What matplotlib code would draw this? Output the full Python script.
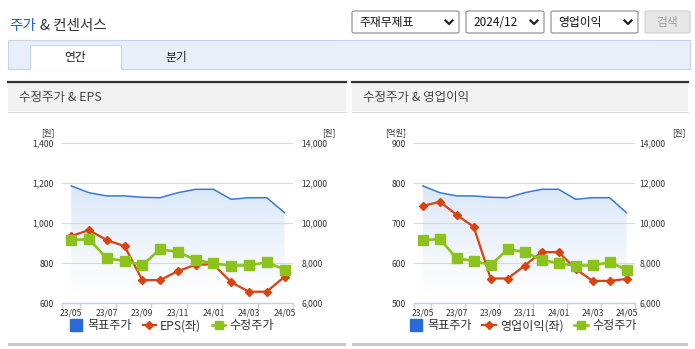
import numpy as np
import matplotlib
matplotlib.use("Agg")
import matplotlib.pyplot as plt
from matplotlib.patches import Rectangle, FancyBboxPatch
from matplotlib.lines import Line2D
from matplotlib.colors import LinearSegmentedColormap

plt.rcParams['font.family'] = ['Noto Sans CJK KR', 'DejaVu Sans']

# ---------------- data ----------------
months = ['23/05', '23/06', '23/07', '23/08', '23/09', '23/10', '23/11',
          '23/12', '24/01', '24/02', '24/03', '24/04', '24/05']
tick_labels = ['23/05', '23/07', '23/09', '23/11', '24/01', '24/03', '24/05']
target_price = [11870, 11530, 11370, 11370, 11300, 11280, 11530,
                11700, 11700, 11200, 11280, 11280, 10530]
adj_price = [9160, 9210, 8250, 8120, 7910, 8700, 8570,
             8170, 8000, 7880, 7900, 8050, 7690]
eps = [936, 966, 916, 886, 716, 716, 761, 793, 795, 705, 658, 658, 733]
op_income = [743, 754, 721, 691, 562, 562, 594, 628, 628, 586, 556, 556, 561]

eps_ticks = [600, 800, 1000, 1200, 1400]
op_ticks = [500, 600, 700, 800, 900]
price_ticks = [6000, 8000, 10000, 12000, 14000]

W, H = 695, 349
fig = plt.figure(figsize=(W / 100, H / 100), dpi=100)
fig.patch.set_facecolor('white')

BLUE = '#3a78d8'
BLUE_LEG = '#2a6ad8'
RED = '#d8430f'
GREEN = '#8cc21e'
AXC = '#c3d0e2'
TXT = '#333333'


def fx(x):
    return x / W


def fy(y):
    return 1 - y / H


def rect(x0, y0, x1, y1, **kw):
    r = Rectangle((fx(x0), fy(y1)), (x1 - x0) / W, (y1 - y0) / H,
                  transform=fig.transFigure, **kw)
    fig.add_artist(r)
    return r


def hline(x0, x1, y, **kw):
    fig.add_artist(Line2D([fx(x0), fx(x1)], [fy(y), fy(y)],
                          transform=fig.transFigure, **kw))


def text(x, y, s, **kw):
    kw.setdefault('va', 'center')
    kw.setdefault('color', TXT)
    fig.text(fx(x), fy(y), s, **kw)


# ---------------- top UI ----------------
fig.text(fx(9), fy(26), '주가', color='#1e5fc8', fontsize=10.5, va='center')
fig.text(fx(40), fy(26), '& 컨센서스', color=TXT, fontsize=10.5, va='center')


def dropdown(x0, x1, label, y0=11, y1=33):
    p = FancyBboxPatch((fx(x0), fy(y1)), (x1 - x0) / W, (y1 - y0) / H,
                       boxstyle='round,pad=0,rounding_size=0.004',
                       transform=fig.transFigure, facecolor='white',
                       edgecolor='#8a8a8a', linewidth=0.8)
    fig.add_artist(p)
    text(x0 + 7, 22.5, label, fontsize=8.5, color='#111111')
    cx = x1 - 10
    fig.add_artist(Line2D([fx(cx - 3.5), fx(cx), fx(cx + 3.5)],
                          [fy(20.5), fy(24), fy(20.5)],
                          transform=fig.transFigure, color='#222222', lw=1.6))


dropdown(352, 459, '주재무제표')
dropdown(466, 544, '2024/12')
dropdown(551, 638, '영업이익')
p = FancyBboxPatch((fx(645), fy(33)), 45 / W, 22 / H,
                   boxstyle='round,pad=0,rounding_size=0.004',
                   transform=fig.transFigure, facecolor='#e7e7e7',
                   edgecolor='#cfcfcf', linewidth=0.8)
fig.add_artist(p)
text(667, 22.5, '검색', fontsize=8.5, color='#a0a0a0', ha='center')

# tab bar
rect(8, 40, 690, 69, facecolor='#e9eff9', edgecolor='#c8d5e8', linewidth=0.8)
rect(30, 45, 121, 69.6, facecolor='white', edgecolor='none')
fig.add_artist(Line2D([fx(30), fx(30), fx(121), fx(121)],
                      [fy(69), fy(45), fy(45), fy(69)],
                      transform=fig.transFigure, color='#c8d5e8', lw=0.8))
text(75, 57.5, '연간', fontsize=8.5, ha='center', color='#222222')
text(176, 57.5, '분기', fontsize=8.5, ha='center', color='#222222')

# panel headers and bottoms
for (x0, x1, title) in [(8, 346, '수정주가 & EPS'), (352, 688, '수정주가 & 영업이익')]:
    rect(x0, 82, x1, 111, facecolor='#f2f2f2', edgecolor='none')
    hline(x0, x1, 81.5, color='#333333', lw=1.6)
    hline(x0, x1, 111.5, color='#dcdcdc', lw=0.9)
    text(x0 + 11, 97, title, fontsize=9, color='#444444')
    rect(x0, 343, x1, 346, facecolor='#c8c8c8', edgecolor='none')


# ---------------- charts ----------------
def chart(x0, x1, left_vals, left_ticks, left_unit, left_name, leg_cx):
    y0, y1 = 143.3, 303.3
    pos = [fx(x0), fy(y1), (x1 - x0) / W, (y1 - y0) / H]
    axl = fig.add_axes(pos)
    axp = axl.twinx()
    axt = axl.twinx()
    axp.set_zorder(1)
    axl.set_zorder(2)
    axt.set_zorder(3)
    for a in (axl, axp, axt):
        a.patch.set_visible(False)
        for s in ('top', 'left', 'right'):
            a.spines[s].set_visible(False)
    axp.spines['bottom'].set_visible(False)
    axt.spines['bottom'].set_visible(False)
    axl.spines['bottom'].set_color(AXC)
    axl.spines['bottom'].set_linewidth(1.0)

    x = np.arange(len(months))

    # target price area + line
    poly = axp.fill_between(x, target_price, price_ticks[0], color='none', lw=0)
    cmap = LinearSegmentedColormap.from_list('g', ['#ffffff', '#dae7f8'])
    grad = np.linspace(0, 1, 256).reshape(-1, 1)
    im = axp.imshow(grad, extent=[x[0], x[-1], 6500, 12000], origin='lower',
                    aspect='auto', cmap=cmap, zorder=1, interpolation='bilinear')
    im.set_clip_path(poly.get_paths()[0], axp.transData)
    axp.plot(x, target_price, color=BLUE, lw=1.1, zorder=3)

    # left series
    axl.plot(x, left_vals, color=RED, lw=1.6, marker='D', markersize=4.4,
             zorder=3)
    # adjusted price
    axt.plot(x, adj_price, color=GREEN, lw=1.9, marker='s', markersize=6.5,
             zorder=3)

    for a in (axl, axp, axt):
        a.set_xlim(-0.5, len(months) - 0.5)
    axl.set_ylim(left_ticks[0], left_ticks[-1])
    axp.set_ylim(price_ticks[0], price_ticks[-1])
    axt.set_ylim(price_ticks[0], price_ticks[-1])

    axp.set_yticks(price_ticks)
    axp.set_yticklabels([f'{v:,}' for v in price_ticks])
    axp.grid(axis='y', color='#d9d9d9', lw=0.8)
    axp.tick_params(axis='y', length=0, pad=6 if x0 < 300 else 3,
                    labelsize=6.2, labelcolor=TXT)
    axt.set_yticks([])

    axl.set_yticks(left_ticks)
    axl.set_yticklabels([f'{v:,}' for v in left_ticks])
    axl.tick_params(axis='y', length=0, pad=6, labelsize=6.2, labelcolor=TXT)

    axl.set_xticks(x[::2])
    axl.set_xticklabels(tick_labels)
    axl.set_xticks([-0.5] + list(np.arange(0.5, len(months), 2)), minor=True)
    axl.tick_params(axis='x', which='major', length=0, pad=3.5, labelsize=6.2,
                    labelcolor=TXT)
    axl.tick_params(axis='x', which='minor', length=3.5, width=1.0, color=AXC)

    # unit labels
    text(x0 - 8, 133, left_unit, fontsize=6, ha='right')
    text(x1 + 35 if x0 < 300 else x1 + 44, 133, '[원]', fontsize=6, ha='center')

    handles = [
        Line2D([], [], ls='none', marker='s', markersize=8, color=BLUE_LEG),
        Line2D([], [], color=RED, lw=1.6, marker='D', markersize=4),
        Line2D([], [], color=GREEN, lw=1.9, marker='s', markersize=5.5),
    ]
    fig.legend(handles, ['목표주가', left_name, '수정주가'], loc='center',
               bbox_to_anchor=(fx(leg_cx), fy(326)), ncol=3, frameon=False,
               fontsize=8.7, handlelength=1.1, handletextpad=0.35,
               columnspacing=0.9, labelcolor=TXT)


chart(62.3, 293.4, eps, eps_ticks, '[원]', 'EPS(좌)', 172)
chart(414.3, 635.0, op_income, op_ticks, '[억원]', '영업이익(좌)', 523)

fig.savefig('out.png', dpi=100, facecolor='white')
